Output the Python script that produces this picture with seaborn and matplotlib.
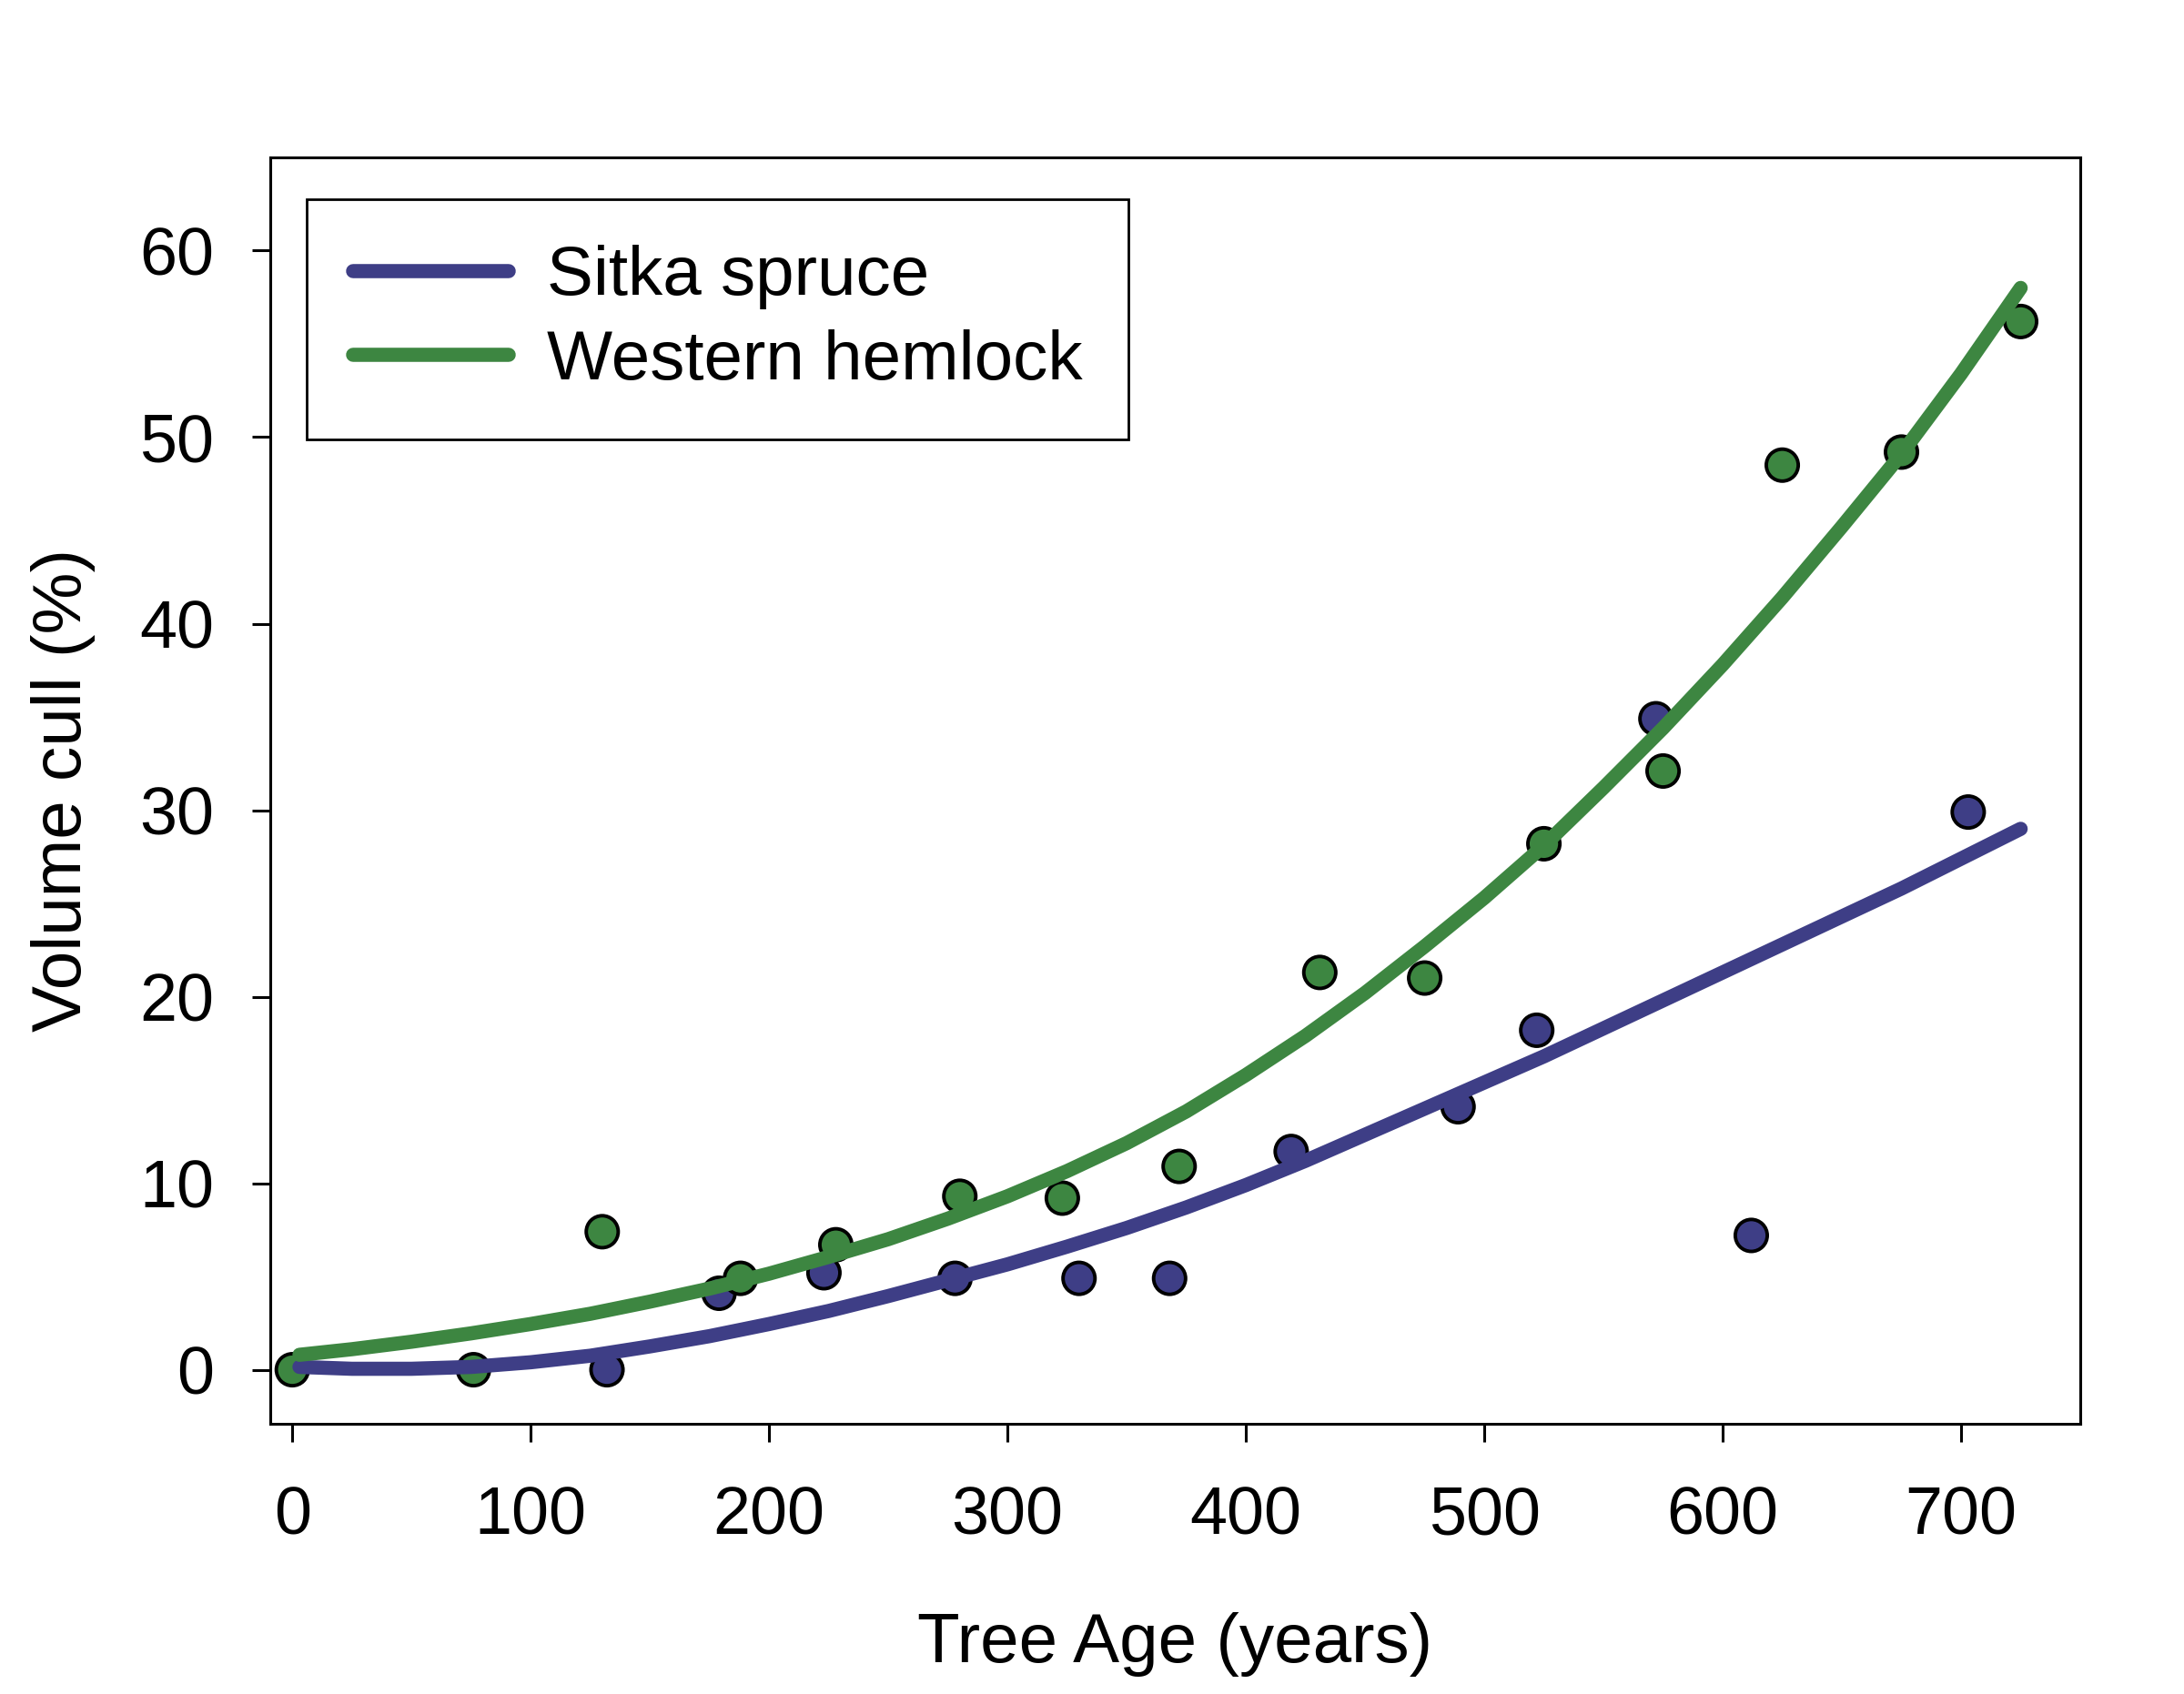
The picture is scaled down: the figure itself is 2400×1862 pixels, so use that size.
import matplotlib
matplotlib.use("Agg")
import matplotlib.pyplot as plt
from matplotlib.lines import Line2D
import numpy as np
import pandas as pd
import seaborn as sns

sitka_age = [132, 179, 223, 278, 330, 368, 419, 489, 522, 572, 612, 703]
sitka_cull = [0.0, 4.1, 5.2, 4.9, 4.9, 4.9, 11.7, 14.1, 18.2, 34.9, 7.2, 29.9]

hemlock_age = [0, 76, 130, 188, 228, 280, 323, 372, 431, 475, 525, 575, 625, 675, 725]
hemlock_cull = [0.0, 0.0, 7.4, 4.9, 6.7, 9.3, 9.2, 10.9, 21.3, 21.0, 28.2, 32.1, 48.5, 49.2, 56.2]

# fitted curves
curve_age = [3, 25, 50, 75, 100, 125, 150, 175, 200, 225, 250, 275, 300, 325, 350,
             375, 400, 425, 450, 475, 500, 525, 550, 575, 600, 625, 650, 675, 700, 725]
sitka_fit = [0.15, 0.05, 0.05, 0.15, 0.4, 0.75, 1.25, 1.8, 2.45, 3.15, 3.95, 4.8, 5.65,
             6.6, 7.6, 8.7, 9.9, 11.2, 12.6, 14.0, 15.4, 16.8, 18.3, 19.8, 21.3, 22.8,
             24.3, 25.8, 27.4, 29.0]
hemlock_fit = [0.8, 1.1, 1.5, 1.95, 2.45, 3.0, 3.65, 4.35, 5.15, 6.05, 7.0, 8.1, 9.3,
               10.65, 12.15, 13.85, 15.8, 17.9, 20.2, 22.7, 25.3, 28.1, 31.2, 34.4,
               37.8, 41.4, 45.2, 49.1, 53.4, 58.0]

species = ["Sitka spruce", "Western hemlock"]
colors = {"Sitka spruce": "#3e3e86", "Western hemlock": "#3d8641"}

pts = pd.DataFrame({
    "species": [species[0]] * len(sitka_age) + [species[1]] * len(hemlock_age),
    "age": sitka_age + hemlock_age,
    "cull": sitka_cull + hemlock_cull,
})
fits = pd.DataFrame({
    "species": [species[0]] * len(curve_age) + [species[1]] * len(curve_age),
    "age": curve_age + curve_age,
    "cull": sitka_fit + hemlock_fit,
})

sns.set_style("ticks")
plt.rcParams["font.family"] = ["Liberation Sans", "DejaVu Sans"]
plt.rcParams["axes.edgecolor"] = "black"
plt.rcParams["text.color"] = "black"
plt.rcParams["axes.labelcolor"] = "black"

fig = plt.figure(figsize=(12, 9.31), dpi=200)
ax = fig.add_axes([0.1238, 0.1595, 0.9525 - 0.1238, 0.9071 - 0.1595])

sns.scatterplot(data=pts, x="age", y="cull", hue="species", palette=colors,
                s=160, edgecolor="black", linewidth=1.4, legend=False, ax=ax, zorder=2)
sns.lineplot(data=fits, x="age", y="cull", hue="species", palette=colors,
             linewidth=5.6, estimator=None, legend=False, ax=ax, zorder=3,
             solid_capstyle="round")

ax.set_xlim(-9.2, 750)
ax.set_ylim(-2.9, 65)
ax.set_xticks(np.arange(0, 701, 100))
ax.set_yticks(np.arange(0, 61, 10))
ax.tick_params(axis="both", direction="out", length=7.2, width=1.1,
               labelsize=26.5, colors="black")
ax.tick_params(axis="x", pad=17)
ax.tick_params(axis="y", pad=15)
for sp in ax.spines.values():
    sp.set_linewidth(1.1)
    sp.set_color("black")

ax.set_xlabel("Tree Age (years)", fontsize=27.5, color="black")
ax.set_ylabel("Volume cull (%)", fontsize=27.5, color="black")
ax.xaxis.set_label_coords(0.5, -0.149)
ax.yaxis.label.set_va("center")
ax.yaxis.set_label_coords(-0.1146, 0.5)

handles = [Line2D([], [], color=colors[s], lw=5.6, solid_capstyle="round") for s in species]
leg = ax.legend(handles, species, loc="upper left", bbox_to_anchor=(0.0201, 0.967),
                borderaxespad=0, fontsize=27.5, frameon=True, fancybox=False,
                framealpha=1, edgecolor="black", handlelength=2.25,
                handletextpad=0.55, labelspacing=0.28, borderpad=0.66)
leg.get_frame().set_linewidth(1.0)
for t in leg.get_texts():
    t.set_color("black")

fig.savefig("out.png", dpi=200)
